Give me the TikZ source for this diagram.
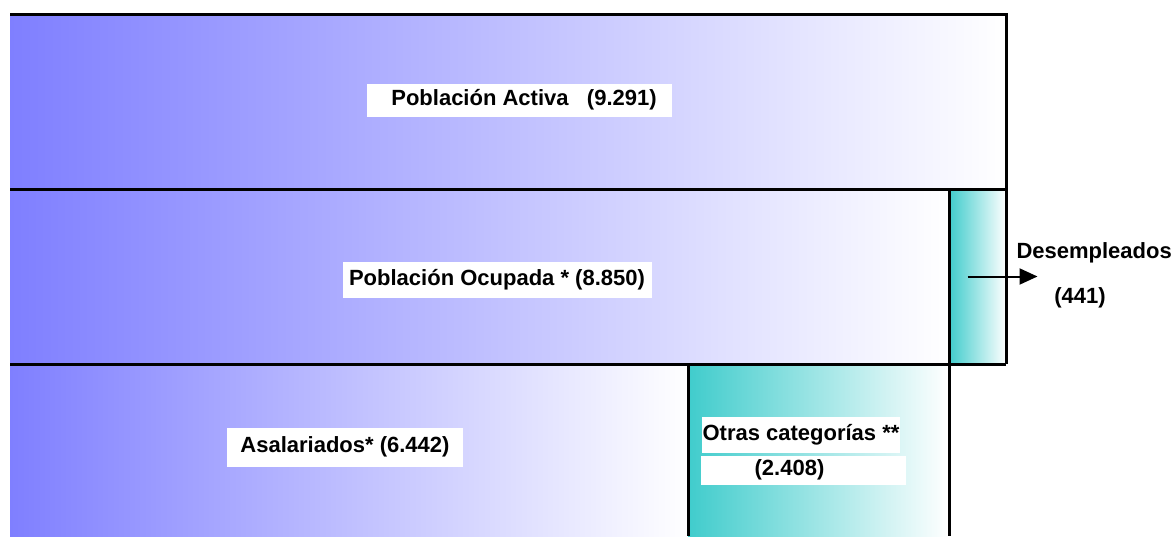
\documentclass[tikz,border=0pt]{standalone}
\usepackage{fontspec}
\setmainfont{Liberation Sans}
\usetikzlibrary{arrows.meta,positioning,calc}

\definecolor{azul}{RGB}{127,127,255}
\definecolor{turquesa}{RGB}{64,204,204}

\begin{document}
\begin{tikzpicture}[
    x=1pt, y=-1pt,
    bloque/.style={anchor=north west, inner sep=0pt, outer sep=0pt, shading=axis, shading angle=90, right color=white},
    poblacion/.style={bloque, left color=azul},
    otros/.style={bloque, left color=turquesa},
    etiqueta/.style={fill=white, inner sep=0pt, font=\fontsize{22}{26}\selectfont\bfseries},
    borde/.style={draw=black, line width=3pt},
    flecha/.style={-{Triangle[length=18pt,width=16pt]}, line width=2pt}
]
\useasboundingbox (0,0) rectangle (1174,536);

% Bloques de poblacion
\node[poblacion, minimum width=996pt, minimum height=175pt] (activa) at (10,14) {};
\node[poblacion, minimum width=939pt, minimum height=175pt] (ocupada) at (10,189) {};
\node[otros, minimum width=57pt, minimum height=175pt] (paro) at (949,189) {};
\node[poblacion, minimum width=678pt, minimum height=172pt] (asalariados) at (10,364) {};
\node[otros, minimum width=261pt, minimum height=172pt] (otras) at (688,364) {};

% Bordes
\draw[borde] (activa.north west) -- (activa.north east) -- (paro.south east);
\draw[borde] (activa.south west) -- (activa.south east);
\draw[borde] (ocupada.south west) -- (paro.south east);
\draw[borde] (paro.north west) -- (otras.south east);
\draw[borde] (otras.north west) -- (otras.south west);

% Etiquetas
\node[etiqueta, minimum width=305pt, minimum height=33pt] (tactiva) at (519,100) {\kern10pt Población Activa\ \ \ (9.291)};
\node[etiqueta, minimum width=309pt, minimum height=36pt] (tocupada) at (497,280) {Población Ocupada * (8.850)};
\node[etiqueta, minimum width=236pt, minimum height=39pt] (tasalariados) at (345,447) {Asalariados* (6.442)};
\node[etiqueta, minimum width=198pt, minimum height=36pt] (totras) at (801,435) {Otras categorías **};
\node[etiqueta, minimum width=205pt, minimum height=29pt] (tcifra) at (803,470) {(2.408)\kern27pt};

% Desempleados
\coordinate[right=60pt of paro.center] (salida);
\draw[flecha] ([xshift=-10pt]paro.center) -- (salida);
\node[font=\fontsize{22}{26}\selectfont\bfseries, anchor=west] (tparo) at (1013,253) {Desempleados};
\node[font=\fontsize{22}{26}\selectfont\bfseries] (tcifraparo) at (1080,298) {(441)};

\end{tikzpicture}
\end{document}
